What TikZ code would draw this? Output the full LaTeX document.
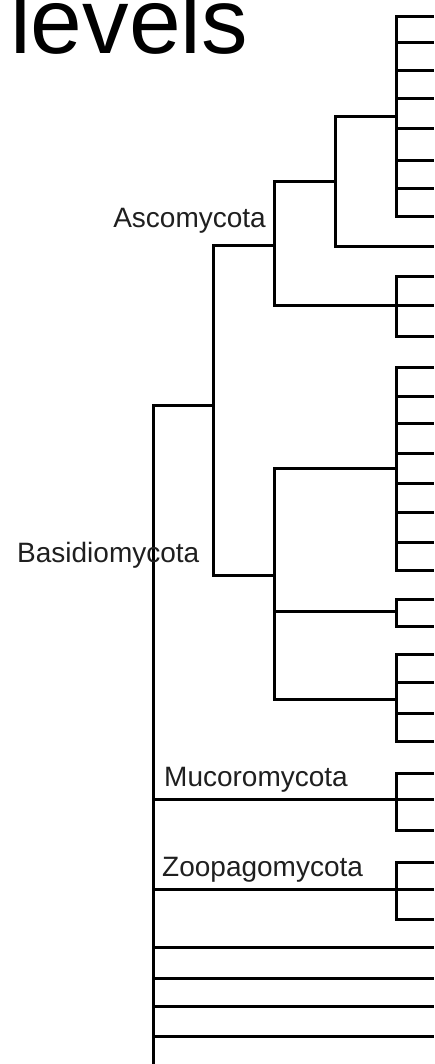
\documentclass[tikz,border=0pt]{standalone}
\usepackage{fontspec}
\setmainfont{Liberation Sans}
\begin{document}
\begin{tikzpicture}[x=1pt,y=-1pt,
  br/.style={line width=3pt, line join=miter, line cap=butt},
  lbl/.style={font=\fontsize{28}{30}\selectfont, inner sep=0pt, text=black!88}]
\useasboundingbox (0,0) rectangle (434,1064);
\def\R{434}
% title
\node[anchor=base west, inner sep=0pt, font=\fontsize{93}{93}\selectfont] (title) at (10,54) {levels};
% internal nodes
\coordinate (nA) at (396,117);
\coordinate (nAB) at (335,182);
\coordinate (nB) at (396,305);
\coordinate (nAsc) at (274,246);
\coordinate (nC) at (396,468);
\coordinate (nD) at (396,611);
\coordinate (nE) at (396,699);
\coordinate (nBas) at (274,575);
\coordinate (nDik) at (213,405);
\coordinate (nMuc) at (396,799);
\coordinate (nZoo) at (396,889);
\coordinate (root) at (153,1070);
% leaves
\foreach \y [count=\i] in {17,43,71,99,129,161,189,217} \coordinate (a\i) at (\R,\y);
\coordinate (l9) at (\R,247);
\foreach \y [count=\i] in {277,305,336} \coordinate (b\i) at (\R,\y);
\foreach \y [count=\i] in {367,396,423,453,483,512,542,570} \coordinate (c\i) at (\R,\y);
\foreach \y [count=\i] in {599,626} \coordinate (d\i) at (\R,\y);
\foreach \y [count=\i] in {654,682,713,741} \coordinate (e\i) at (\R,\y);
\foreach \y [count=\i] in {773,799,830} \coordinate (m\i) at (\R,\y);
\foreach \y [count=\i] in {862,889,919} \coordinate (z\i) at (\R,\y);
\foreach \y [count=\i] in {947,978,1006,1036} \coordinate (r\i) at (\R,\y);
% clade bars
\draw[br] (a1) -| (nA |- a8) -- (a8);
\foreach \i in {2,...,7} \draw[br] (nA |- a\i) -- (a\i);
\draw[br] (b1) -| (nB |- b3) -- (b3);
\draw[br] (nB) -- (b2);
\draw[br] (c1) -| (nC |- c8) -- (c8);
\foreach \i in {2,...,7} \draw[br] (nC |- c\i) -- (c\i);
\draw[br] (d1) -| (nD |- d2) -- (d2);
\draw[br] (e1) -| (nE |- e4) -- (e4);
\foreach \i in {2,3} \draw[br] (nE |- e\i) -- (e\i);
\draw[br] (m1) -| (nMuc |- m3) -- (m3);
\draw[br] (nMuc) -- (m2);
\draw[br] (z1) -| (nZoo |- z3) -- (z3);
\draw[br] (nZoo) -- (z2);
% internal connectors
\draw[br] (nA) -| (nAB |- l9) -- (l9);
\draw[br] (nAB) -| (nAsc |- nB) -- (nB);
\draw[br] (nAsc) -| (nDik |- nBas) -- (nBas);
\draw[br] (nC) -| (nBas |- nE) -- (nE);
\draw[br] (nBas |- nD) -- (nD);
\draw[br] (nDik) -| (root);
\draw[br] (root |- nMuc) -- (nMuc);
\draw[br] (root |- nZoo) -- (nZoo);
\foreach \i in {1,...,4} \draw[br] (root |- r\i) -- (r\i);
% labels
\node[lbl, anchor=base east] (asc) at (266,228) {Ascomycota};
\node[lbl, anchor=base west] (bas) at (17,562) {Basidiomycota};
\node[lbl, anchor=base west] (muc) at (164,786) {Mucoromycota};
\node[lbl, anchor=base west] (zoo) at (162,876) {Zoopagomycota};
\end{tikzpicture}
\end{document}
